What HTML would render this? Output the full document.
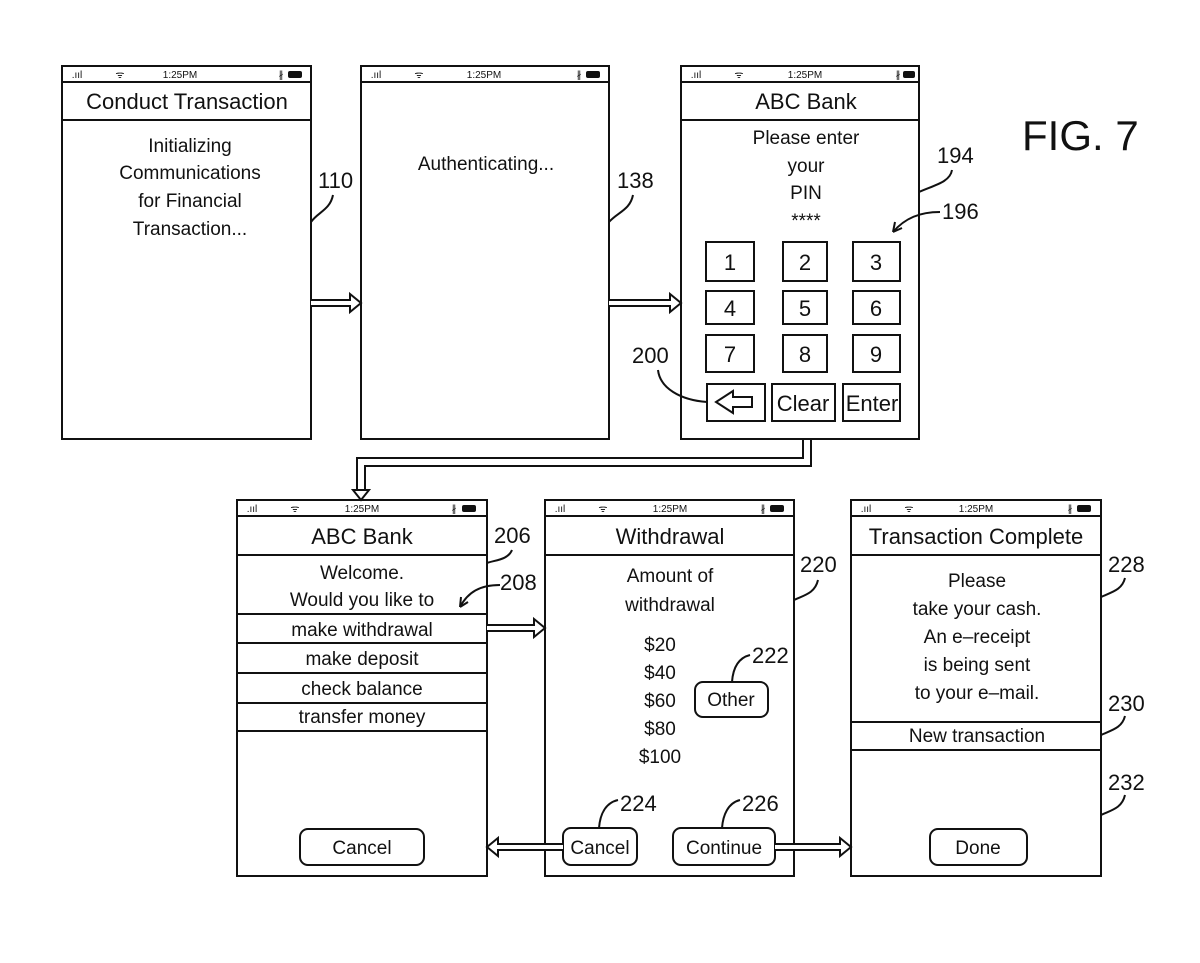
<!DOCTYPE html>
<html><head><meta charset="utf-8"><style>
html,body{margin:0;padding:0;background:#fff}
svg text{font-family:"Liberation Sans Narrow","Liberation Sans",sans-serif;fill:#111}
.t{font-size:22px;text-anchor:middle}
.b{font-size:19px;text-anchor:middle}
.l{font-size:22px}
.s{font-size:10px;text-anchor:middle}
</style></head><body>
<svg width="1200" height="958" viewBox="0 0 1200 958" xmlns="http://www.w3.org/2000/svg">
<g fill="none" stroke="#111" stroke-width="2">
<!-- top phones -->
<rect x="62" y="66" width="249" height="373"/><line x1="62" y1="82" x2="311" y2="82"/><line x1="62" y1="120" x2="311" y2="120"/>
<rect x="361" y="66" width="248" height="373"/><line x1="361" y1="82" x2="609" y2="82"/>
<rect x="681" y="66" width="238" height="373"/><line x1="681" y1="82" x2="919" y2="82"/><line x1="681" y1="120" x2="919" y2="120"/>
<!-- keypad -->
<rect x="706" y="242" width="48" height="39"/><rect x="783" y="242" width="44" height="39"/><rect x="853" y="242" width="47" height="39"/>
<rect x="706" y="291" width="48" height="33"/><rect x="783" y="291" width="44" height="33"/><rect x="853" y="291" width="47" height="33"/>
<rect x="706" y="335" width="48" height="37"/><rect x="783" y="335" width="44" height="37"/><rect x="853" y="335" width="47" height="37"/>
<rect x="707" y="384" width="58" height="37"/><rect x="772" y="384" width="63" height="37"/><rect x="843" y="384" width="57" height="37"/>
<path d="M752 397 H733 V391 L716 402 L733 413 V407 H752 Z"/>
<!-- bottom phones -->
<rect x="237" y="500" width="250" height="376"/><line x1="237" y1="516" x2="487" y2="516"/><line x1="237" y1="555" x2="487" y2="555"/>
<line x1="237" y1="614" x2="487" y2="614"/><line x1="237" y1="643" x2="487" y2="643"/><line x1="237" y1="673" x2="487" y2="673"/><line x1="237" y1="703" x2="487" y2="703"/><line x1="237" y1="731" x2="487" y2="731"/>
<rect x="300" y="829" width="124" height="36" rx="8"/>
<rect x="545" y="500" width="249" height="376"/><line x1="545" y1="516" x2="794" y2="516"/><line x1="545" y1="555" x2="794" y2="555"/>
<rect x="695" y="682" width="73" height="35" rx="8"/>
<rect x="563" y="828" width="74" height="37" rx="8"/>
<rect x="673" y="828" width="102" height="37" rx="8"/>
<rect x="851" y="500" width="250" height="376"/><line x1="851" y1="516" x2="1101" y2="516"/><line x1="851" y1="555" x2="1101" y2="555"/>
<line x1="851" y1="722" x2="1101" y2="722"/><line x1="851" y1="750" x2="1101" y2="750"/>
<rect x="930" y="829" width="97" height="36" rx="8"/>
<!-- arrows -->
<path d="M311 300 H350 V294 L361 303 L350 312 V306 H311" fill="#fff"/>
<path d="M609 300 H670 V294 L681 303 L670 312 V306 H609" fill="#fff"/>
<path d="M487 625 H534 V619 L545 628 L534 637 V631 H487" fill="#fff"/>
<path d="M775 844 H840 V838 L851 847 L840 856 V850 H775" fill="#fff"/>
<path d="M563 844 H498 V838 L487 847 L498 856 V850 H563" fill="#fff"/>
<polyline points="811,439 811,466 365,466 365,490"/>
<polyline points="803,439 803,458 357,458 357,490"/>
<path d="M353 490 L361 500 L369 490 Z" fill="#fff"/>
<!-- leaders -->
<path d="M333 195 C330 210 318 212 311 222"/>
<path d="M633 195 C630 210 618 212 609 222"/>
<path d="M952 170 C950 182 935 185 919 192"/>
<path d="M940 212 C920 212 905 218 893 232"/><path d="M893 232 l2 -10 M893 232 l9 -4"/>
<path d="M658 370 C660 388 680 400 707 402"/>
<path d="M512 550 C508 560 495 560 487 563"/>
<path d="M500 585 C480 585 468 592 460 607"/><path d="M460 607 l1 -10 M460 607 l8 -5"/>
<path d="M818 580 C815 593 805 595 794 600"/>
<path d="M750 655 C738 658 733 668 732 682"/>
<path d="M618 800 C605 803 600 815 599 828"/>
<path d="M740 800 C728 803 723 815 722 828"/>
<path d="M1125 578 C1122 590 1112 592 1101 597"/>
<path d="M1125 716 C1122 728 1112 730 1101 735"/>
<path d="M1125 795 C1122 808 1112 810 1101 815"/>
</g>
<!-- status bars -->
<g>
<text class="s" x="77" y="78">.ııl</text><text class="s" x="120" y="78">ᯤ</text><text class="s" x="180" y="78">1:25PM</text><text class="s" x="281" y="78">∦</text><rect x="288" y="71" width="14" height="7" rx="2" fill="#111"/>
<text class="s" x="376" y="78">.ııl</text><text class="s" x="419" y="78">ᯤ</text><text class="s" x="484" y="78">1:25PM</text><text class="s" x="579" y="78">∦</text><rect x="586" y="71" width="14" height="7" rx="2" fill="#111"/>
<text class="s" x="696" y="78">.ııl</text><text class="s" x="739" y="78">ᯤ</text><text class="s" x="805" y="78">1:25PM</text><text class="s" x="898" y="78">∦</text><rect x="903" y="71" width="12" height="7" rx="2" fill="#111"/>
<text class="s" x="252" y="512">.ııl</text><text class="s" x="295" y="512">ᯤ</text><text class="s" x="362" y="512">1:25PM</text><text class="s" x="454" y="512">∦</text><rect x="462" y="505" width="14" height="7" rx="2" fill="#111"/>
<text class="s" x="560" y="512">.ııl</text><text class="s" x="603" y="512">ᯤ</text><text class="s" x="670" y="512">1:25PM</text><text class="s" x="763" y="512">∦</text><rect x="770" y="505" width="14" height="7" rx="2" fill="#111"/>
<text class="s" x="866" y="512">.ııl</text><text class="s" x="909" y="512">ᯤ</text><text class="s" x="976" y="512">1:25PM</text><text class="s" x="1070" y="512">∦</text><rect x="1077" y="505" width="14" height="7" rx="2" fill="#111"/>
</g>
<!-- text -->
<text class="t" x="187" y="109">Conduct Transaction</text>
<text class="b" x="190" y="152">Initializing</text><text class="b" x="190" y="179">Communications</text><text class="b" x="190" y="207">for Financial</text><text class="b" x="190" y="235">Transaction...</text>
<text class="b" x="486" y="170">Authenticating...</text>
<text class="t" x="806" y="109">ABC Bank</text>
<text class="b" x="806" y="144">Please enter</text><text class="b" x="806" y="172">your</text><text class="b" x="806" y="199">PIN</text><text class="b" x="806" y="227">****</text>
<text class="t" x="730" y="270">1</text><text class="t" x="805" y="270">2</text><text class="t" x="876" y="270">3</text>
<text class="t" x="730" y="316">4</text><text class="t" x="805" y="316">5</text><text class="t" x="876" y="316">6</text>
<text class="t" x="730" y="362">7</text><text class="t" x="805" y="362">8</text><text class="t" x="876" y="362">9</text>
<text class="t" x="803" y="411">Clear</text><text class="t" x="872" y="411">Enter</text>
<text x="1022" y="150" style="font-size:42px">FIG. 7</text>
<text class="l" x="318" y="188">110</text><text class="l" x="617" y="188">138</text><text class="l" x="937" y="163">194</text><text class="l" x="942" y="219">196</text><text class="l" x="632" y="363">200</text>
<text class="t" x="362" y="544">ABC  Bank</text>
<text class="b" x="362" y="579">Welcome.</text><text class="b" x="362" y="606">Would you like to</text>
<text class="b" x="362" y="636">make withdrawal</text><text class="b" x="362" y="665">make deposit</text><text class="b" x="362" y="695">check balance</text><text class="b" x="362" y="723">transfer money</text>
<text class="b" x="362" y="854">Cancel</text>
<text class="t" x="670" y="544">Withdrawal</text>
<text class="b" x="670" y="582">Amount of</text><text class="b" x="670" y="611">withdrawal</text>
<text class="b" x="660" y="651">$20</text><text class="b" x="660" y="679">$40</text><text class="b" x="660" y="707">$60</text><text class="b" x="660" y="735">$80</text><text class="b" x="660" y="763">$100</text>
<text class="b" x="731" y="706">Other</text>
<text class="b" x="600" y="854">Cancel</text><text class="b" x="724" y="854">Continue</text>
<text class="t" x="976" y="544">Transaction  Complete</text>
<text class="b" x="977" y="587">Please</text><text class="b" x="977" y="615">take your cash.</text><text class="b" x="977" y="643">An e–receipt</text><text class="b" x="977" y="671">is being sent</text><text class="b" x="977" y="699">to your e–mail.</text>
<text class="b" x="977" y="742">New  transaction</text>
<text class="b" x="978" y="854">Done</text>
<text class="l" x="494" y="543">206</text><text class="l" x="500" y="590">208</text><text class="l" x="800" y="572">220</text>
<text class="l" x="752" y="663">222</text><text class="l" x="620" y="811">224</text><text class="l" x="742" y="811">226</text>
<text class="l" x="1108" y="572">228</text><text class="l" x="1108" y="711">230</text><text class="l" x="1108" y="790">232</text>
</svg>
</body></html>
